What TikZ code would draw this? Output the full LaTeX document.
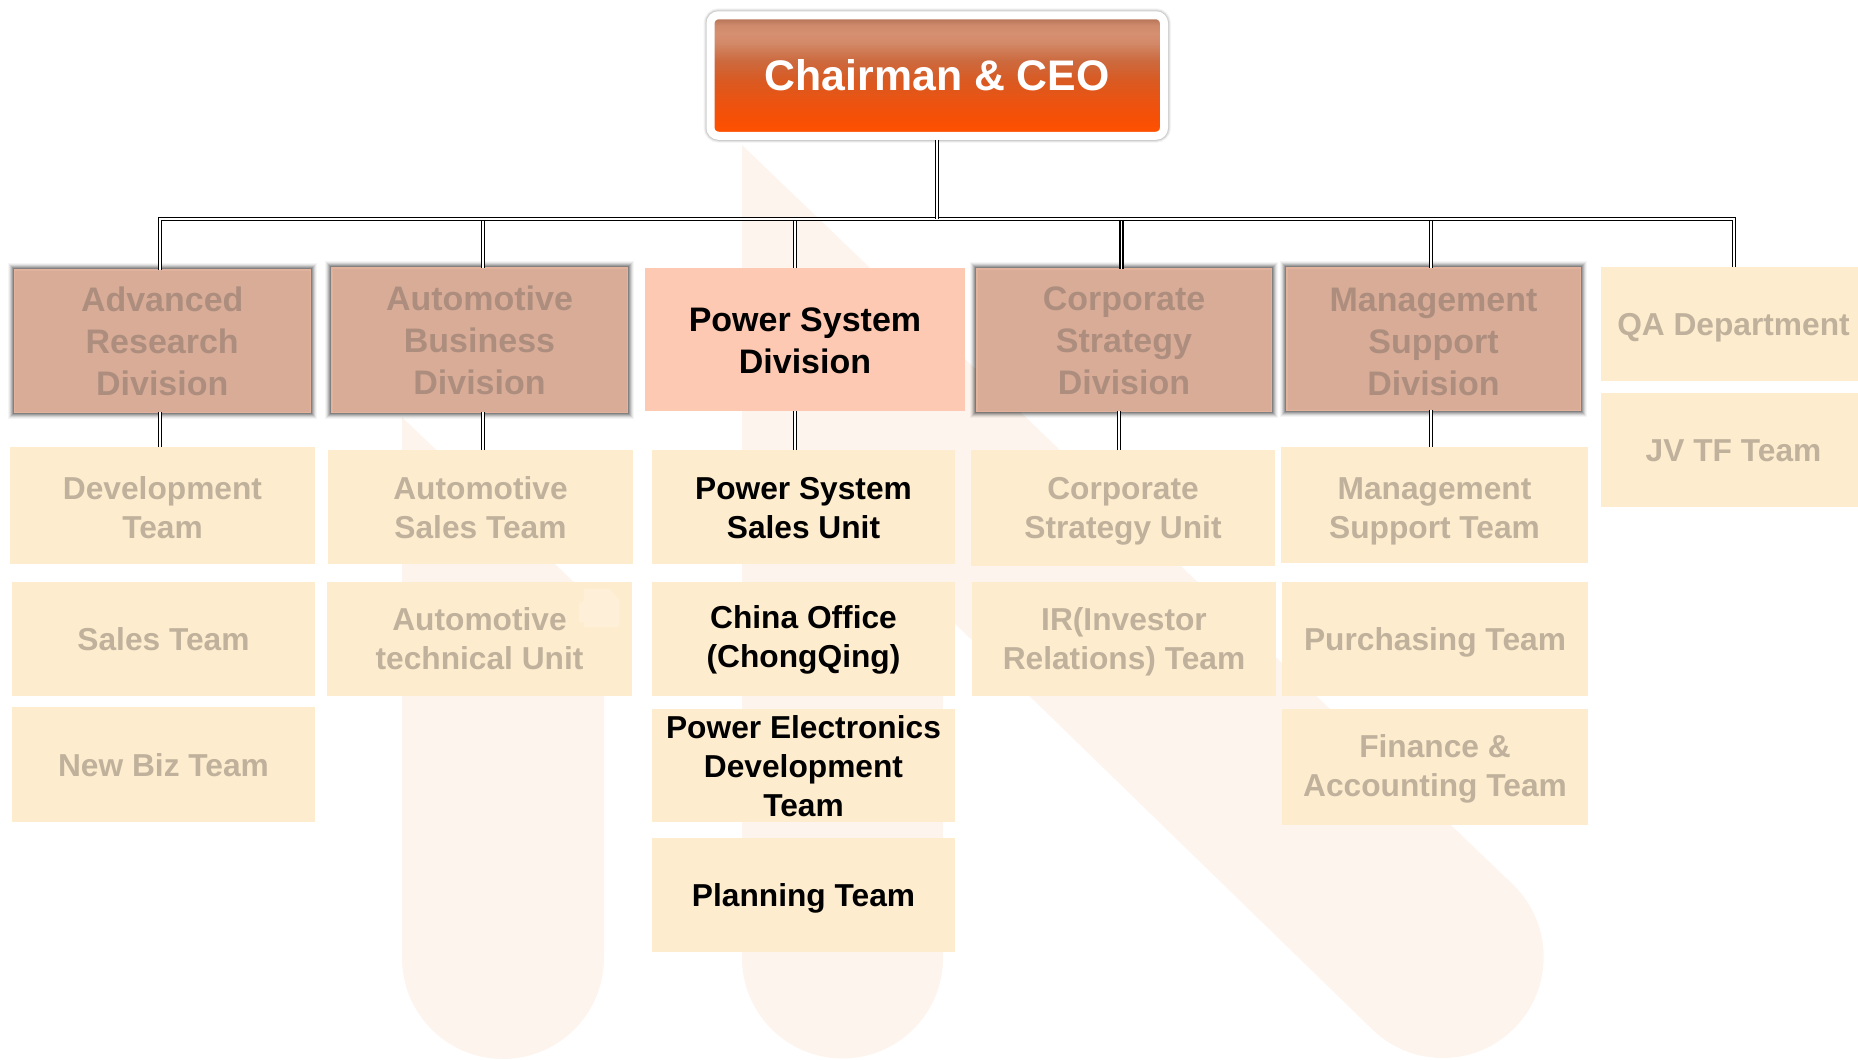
\documentclass[tikz,border=0pt]{standalone}
\usepackage{fontspec}
\setmainfont{Liberation Sans}

\definecolor{markc}{HTML}{FDF4EE}
\definecolor{creamc}{HTML}{FEECCE}
\definecolor{dimc}{HTML}{D9AC98}
\definecolor{dimedge}{HTML}{E3B29D}
\definecolor{peachc}{HTML}{FEC9B3}
\definecolor{dimtxt}{HTML}{AD8E7E}
\definecolor{faintxt}{HTML}{BFB19B}
\pgfdeclareverticalshading{ceoshade}{100bp}{
  rgb(0bp)=(1,.314,0);
  rgb(25bp)=(1,.314,0);rgb(26.5bp)=(1,.314,0);rgb(33.5bp)=(.957,.314,.031);
  rgb(39.7bp)=(.918,.329,.071);rgb(48bp)=(.851,.353,.133);rgb(56.3bp)=(.8,.416,.247);
  rgb(63.8bp)=(.827,.541,.416);rgb(67.5bp)=(.835,.561,.443);rgb(70.8bp)=(.812,.541,.424);
  rgb(73.3bp)=(.725,.467,.353);rgb(75bp)=(.725,.467,.353);rgb(100bp)=(.725,.467,.353)}
\newcommand{\dn}[1]{\rule{0pt}{#1pt}}

\tikzset{
  ceobox/.style={rounded corners=8,draw=white,line width=8,outer sep=4,shading=ceoshade,
    minimum width=453.5,minimum height=120.5,text=white,
    font=\bfseries\fontsize{42.8}{50}\selectfont,
    preaction={draw=black,line width=14,opacity=.04},
    preaction={draw=black,line width=12,opacity=.07},
    preaction={draw=black,line width=10,opacity=.1}},
  divbox/.style={fill=peachc,minimum width=296,minimum height=144,text=black,
    font=\bfseries\fontsize{34}{42}\selectfont},
  dimbox/.style={divbox,fill=dimc,draw=dimedge,line width=1.5,text=dimtxt,
    preaction={draw=black,line width=13,opacity=.04},
    preaction={draw=black,line width=11,opacity=.06},
    preaction={draw=black,line width=9,opacity=.09},
    preaction={draw=black,line width=7,opacity=.12},
    preaction={draw=black,line width=5,opacity=.15},
    preaction={draw=black,line width=3,opacity=.18}},
  team/.style={fill=creamc,minimum width=304,minimum height=114,text=black,
    font=\bfseries\fontsize{31.7}{39}\selectfont},
  dimteam/.style={team,text=faintxt},
  oneline/.style={text height=23,text depth=0},
  link/.style={draw,line width=1.6,double,double distance=1.4,
    every edge/.style={draw,line width=1.6,double,double distance=1.4}}
}

\begin{document}
\begin{tikzpicture}
  [x=1pt,y=-1pt,every node/.style={inner sep=0pt,outer sep=0pt,align=center}]

  \clip (0,0) rectangle (1858,1060);

  % logo behind the chart
  \fill[markc] (402,417) -- (604,611) -- (604,958) arc[start angle=0,end angle=180,radius=101]
     -- cycle;
  \fill[markc] (742,145) -- (1513,884.5) arc[start angle=-45.9,end angle=134.1,radius=101]
     -- (943,612) -- (943,958) arc[start angle=0,end angle=180,radius=100.5] -- cycle;

  \node[ceobox] (ceo) at (937.25,75.5) {Chairman \& CEO};

  \node[dimbox,minimum width=296,minimum height=142.5] (d1) at (162.25,341) {Advanced\\Research\\Division};
  \node[dimbox,minimum width=295.5,minimum height=144.5] (d2) at (479.5,340) {Automotive\\Business\\Division};
  \node[divbox,minimum width=320,minimum height=143] (d3) at (805,339.5) {\dn{26}Power System\\Division};
  \node[dimbox,minimum width=294.5,minimum height=142.5] (d4) at (1124,340) {\dn{26}Corporate\\Strategy\\Division};
  \node[dimbox,minimum width=293.5,minimum height=142.5] (d5) at (1433.5,339) {\dn{29}Management\\Support\\Division};

  \node[dimteam,oneline,minimum width=265] (q1) at (1733.5,324) {QA Department};
  \node[dimteam,oneline,minimum width=265] (q2) at (1733.5,450) {JV TF Team};

  \node[dimteam,minimum width=305,minimum height=117] (t11) at (162.5,505.5) {\dn{27.5}Development\\Team};
  \node[dimteam,oneline,minimum width=303] (t12) at (163.5,639) {Sales Team};
  \node[dimteam,oneline,minimum width=303,minimum height=115] (t13) at (163.5,764.5) {New Biz Team};

  \node[dimteam,minimum width=305] (t21) at (480.5,506.5) {\dn{25}Automotive\\Sales Team};
  \node[dimteam,minimum width=305] (t22) at (479.5,639) {Automotive\\technical Unit};

  \node[team,minimum width=303] (t31) at (803.5,507) {\dn{25}Power System\\Sales Unit};
  \node[team,minimum width=303] (t32) at (803.5,639) {\dn{25}China Office\\(ChongQing)};
  \node[team,minimum width=303,minimum height=113] (t33) at (803.5,765.5) {\dn{25}Power Electronics\\Development\\Team};
  \node[team,oneline,minimum width=303] (t34) at (803.5,895) {Planning Team};

  \node[dimteam,minimum height=116] (t41) at (1123,508) {\dn{29.5}Corporate\\Strategy Unit};
  \node[dimteam] (t42) at (1124,639) {\dn{29}IR(Investor\\Relations) Team};

  \node[dimteam,minimum width=307,minimum height=116] (t51) at (1434.5,505) {\dn{34}Management\\Support Team};
  \node[dimteam,oneline,minimum width=306] (t52) at (1435,639) {Purchasing Team};
  \node[dimteam,minimum width=306,minimum height=116] (t53) at (1435,767) {\dn{27.5}Finance \&\\Accounting Team};

  % small pale mark on the team box
  \fill[markc!35!creamc] (584,589) -- (610,589) -- (619,600) -- (619,627) -- (584,627)
     -- (584,622) -- (579,622) -- (579,604) -- (584,600) -- cycle;

  \coordinate (c0) at (937,219);
  \coordinate (c1) at (160,219);
  \coordinate (c2) at (483,219);
  \coordinate (c3) at (795,219);
  \coordinate (c4) at (1121.5,219);
  \coordinate (c5) at (1431,219);
  \coordinate (c6) at (1734,219);
  \coordinate (c7) at (1119,219);

  \path[link]
     (c2) edge (c2 |- d2.north)
     (c3) edge (c3 |- d3.north)
     (c4) edge (c4 |- d4.north)
     (c5) edge (c5 |- d5.north)
     (c1 |- d1.south) edge (c1 |- t11.north)
     (c2 |- d2.south) edge (c2 |- t21.north)
     (c3 |- d3.south) edge (c3 |- t31.north)
     (c7 |- d4.south) edge (c7 |- t41.north)
     (c5 |- d5.south) edge (c5 |- t51.north);

  \path[link] (c1 |- d1.north) -- (c1) -- (c6) -- (c6 |- q1.north);
  \path[link] (ceo.south -| c0) -- (c0);

\end{tikzpicture}
\end{document}
